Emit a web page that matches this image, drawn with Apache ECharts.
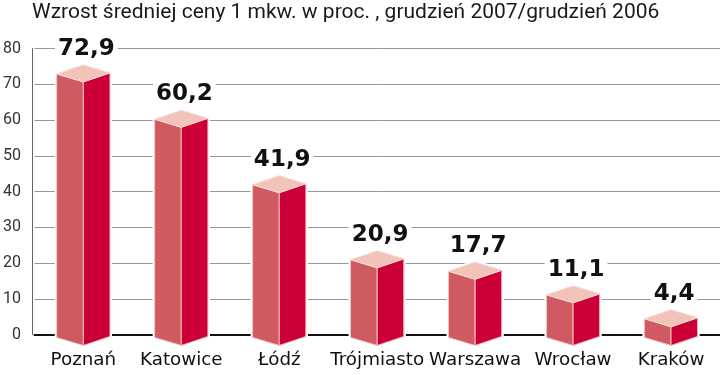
<!DOCTYPE html>
<html>
<head>
<meta charset="utf-8">
<script src="https://cdn.jsdelivr.net/npm/echarts@6/dist/echarts.min.js"></script>
<style>
html,body{margin:0;padding:0;background:#fff;}
#chart{width:720px;height:375px;}
</style>
</head>
<body>
<div id="chart"></div>
<script>
const titleText = 'Wzrost średniej ceny 1 mkw. w proc. , grudzień 2007/grudzień 2006';
const categories = ['Poznań', 'Katowice', 'Łódź', 'Trójmiasto', 'Warszawa', 'Wrocław', 'Kraków'];
const values = [72.9, 60.2, 41.9, 20.9, 17.7, 11.1, 4.4];
const yMin = 0, yMax = 80, yStep = 10;

const chart = echarts.init(document.getElementById('chart'), null, {renderer: 'canvas'});

function fmt(v) { return v.toFixed(1).replace('.', ','); }

function renderItem(params, api) {
  const idx = api.value(0);
  const v = api.value(1);
  const top = api.coord([idx, v]);
  const zero = api.coord([idx, 0]);
  const band = api.size([1, 0])[0];
  const hw = band * 0.272;
  const xc = top[0];
  const yt = top[1];
  const yb = zero[1] + 3;
  const dF = 8, dR = 1, dB = 9;
  const left = [[xc - hw, yt], [xc, yt + dF], [xc, yb + dF], [xc - hw, yb]];
  const right = [[xc, yt + dF], [xc + hw, yt - dR], [xc + hw, yb - dR], [xc, yb + dF]];
  const topFace = [[xc - hw, yt], [xc, yt - dB], [xc + hw, yt - dR], [xc, yt + dF]];
  const outline = [[xc - hw, yt], [xc, yt - dB], [xc + hw, yt - dR], [xc + hw, yb - dR], [xc, yb + dF], [xc - hw, yb]];
  return {
    type: 'group',
    children: [
      {type: 'polygon', shape: {points: outline}, style: {fill: '#fff', stroke: '#fff', lineWidth: 4}},
      {type: 'polygon', shape: {points: left}, style: {fill: '#cf5a62', stroke: '#f2c3bf', lineWidth: 1}},
      {type: 'polygon', shape: {points: right}, style: {fill: '#cc0036', stroke: '#f2c3bf', lineWidth: 1}},
      {type: 'polygon', shape: {points: topFace}, style: {fill: '#f2c4b9', stroke: '#f7d9d2', lineWidth: 1}},
      {type: 'text', style: {
        text: fmt(v), x: xc + 3, y: yt - dB - 16,
        align: 'center', verticalAlign: 'middle',
        fontFamily: 'DejaVu Sans', fontWeight: 'bold', fontSize: 23, fill: '#111',
        backgroundColor: '#fff', padding: [0, 3]
      }}
    ]
  };
}

chart.setOption({
  animation: false,
  backgroundColor: '#fff',
  title: {
    text: titleText, left: 27, top: -3,
    textStyle: {fontFamily: 'Roboto', fontWeight: 'normal', fontSize: 21, color: '#1a1a1a'}
  },
  grid: {left: 33.4, right: -7.6, top: 48.5, bottom: 40.5, containLabel: false},
  xAxis: {
    type: 'category', data: categories, boundaryGap: true,
    axisLine: {show: true, lineStyle: {color: '#111', width: 2}},
    axisTick: {show: false},
    axisLabel: {interval: 0, hideOverlap: false, margin: 17, fontFamily: 'DejaVu Sans', fontSize: 18.3, color: '#111'},
    splitLine: {show: false}
  },
  yAxis: {
    type: 'value', min: yMin, max: yMax, interval: yStep, offset: 2.4,
    axisLine: {show: true, lineStyle: {color: '#666', width: 1}},
    axisTick: {show: false},
    axisLabel: {margin: 11, fontFamily: 'Roboto', fontSize: 16, color: '#333', padding: [5, 0, 0, 0]},
    splitLine: {show: true, lineStyle: {color: '#999', width: 1}}
  },
  series: [{
    type: 'custom',
    renderItem: renderItem,
    data: categories.map((c, i) => [i, values[i]]),
    clip: false
  }]
});
</script>
</body>
</html>
